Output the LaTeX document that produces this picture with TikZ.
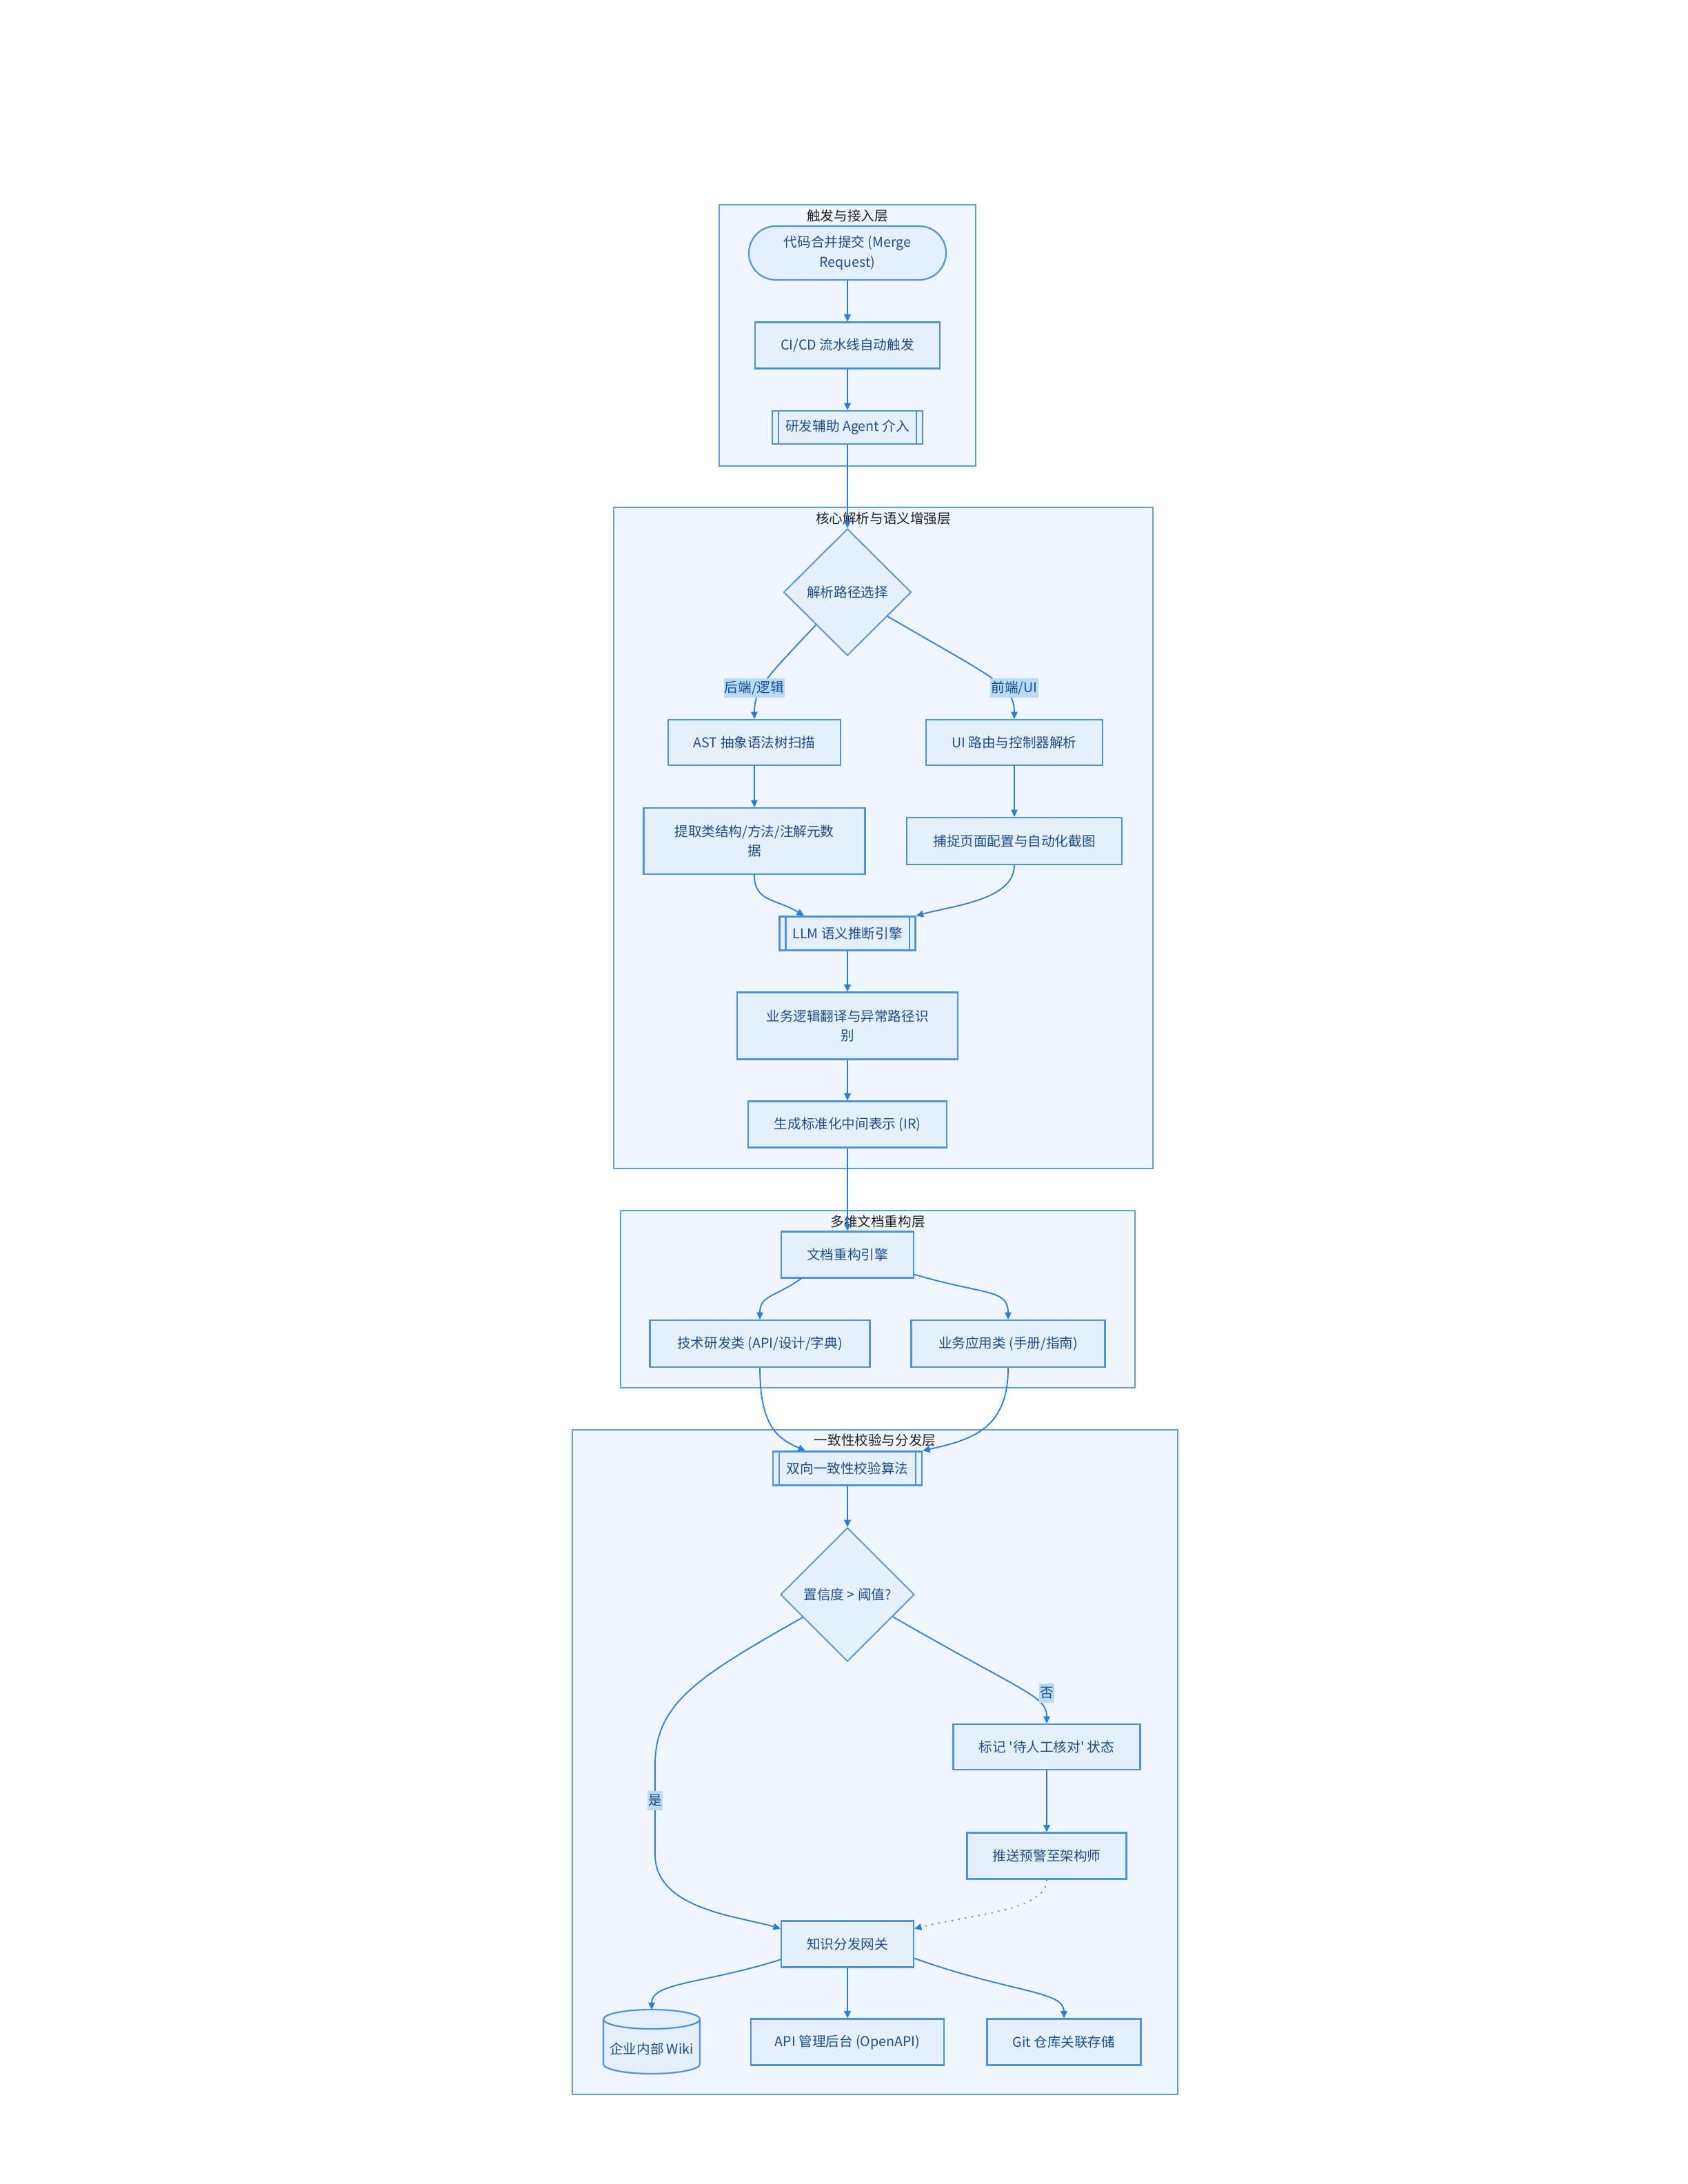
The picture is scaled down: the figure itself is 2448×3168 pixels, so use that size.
\documentclass[tikz,border=0pt]{standalone}
\usepackage{fontspec}
\newfontfamily\nfont{Noto Sans CJK SC}
\usetikzlibrary{shapes.geometric,arrows.meta}
\definecolor{layerfill}{HTML}{EFF6FE}
\definecolor{layerdraw}{HTML}{5E9DE4}
\definecolor{nodefill}{HTML}{E4F0FC}
\definecolor{nodedraw}{HTML}{4F92DF}
\definecolor{edgecol}{HTML}{2A7DE0}
\definecolor{txt}{HTML}{1E4E90}
\definecolor{lblbg}{HTML}{B8DBF9}
\definecolor{titlecol}{HTML}{222222}
\tikzset{
  layerbox/.style={draw=layerdraw, fill=layerfill, line width=0.55pt},
  ltitle/.style={font=\nfont\fontsize{4.9}{7}\selectfont, text=titlecol, inner sep=0pt},
  box/.style={draw=nodedraw, fill=nodefill, line width=0.55pt, text=txt,
    font=\nfont\fontsize{4.9}{7.1}\selectfont, align=center, inner sep=0pt},
  dia/.style={box, diamond, aspect=1, line width=0.45pt},
  sub/.style={box},
  subline/.style={draw=nodedraw, line width=0.55pt},
  edge/.style={draw=edgecol, line width=0.45pt, -{Triangle[length=2.6pt,width=2.4pt]}},
  elabel/.style={fill=lblbg, text=txt, font=\nfont\fontsize{4.9}{7}\selectfont,
    inner xsep=0.3pt, inner ysep=0.5pt, text height=4.6pt, text depth=1.2pt},
  cyltext/.style={text=txt, font=\nfont\fontsize{4.9}{7}\selectfont, inner sep=0pt},
}
\begin{document}
\begin{tikzpicture}[x=0.25pt, y=-0.25pt]
\useasboundingbox (0,0) rectangle (2448,3168);
% layers
\draw[layerbox] (1043,297) rectangle (1415,676);
\node[ltitle] (t1) at (1229,313) {触发与接入层};
\draw[layerbox] (890,736) rectangle (1672,1695);
\node[ltitle] (t2) at (1281,752) {核心解析与语义增强层};
\draw[layerbox] (900,1756) rectangle (1646,2013);
\node[ltitle] (t3) at (1273,1772) {多维文档重构层};
\draw[layerbox] (830,2074) rectangle (1708,3038);
\node[ltitle] (t4) at (1269,2089) {一致性校验与分发层};

% layer 1
\node[box, rounded corners=9.75pt, minimum width=71.5pt, minimum height=19.5pt] (mr) at (1229,367) {代码合并提交 (Merge\\Request)};
\node[box, minimum width=67pt, minimum height=16.75pt] (cicd) at (1229,501) {CI/CD 流水线自动触发};
\node[sub, minimum width=54.5pt, minimum height=12pt] (agent) at (1229,620) {研发辅助 Agent 介入};
\draw[subline] ([xshift=2.5pt]agent.north west) -- ([xshift=2.5pt]agent.south west);
\draw[subline] ([xshift=-2.5pt]agent.north east) -- ([xshift=-2.5pt]agent.south east);

% layer 2
\node[dia, minimum width=46.25pt, minimum height=46pt] (d1) at (1229,859) {解析路径选择};
\node[box, minimum width=62.5pt, minimum height=16.5pt] (ast) at (1094,1077) {AST 抽象语法树扫描};
\node[box, minimum width=64pt, minimum height=16.5pt] (ui) at (1471,1077) {UI 路由与控制器解析};
\node[box, minimum width=80.25pt, minimum height=24pt] (ext) at (1094,1220) {提取类结构/方法/注解元数\\据};
\node[box, minimum width=78pt, minimum height=17pt] (cap) at (1471,1220) {捕捉页面配置与自动化截图};
\node[sub, minimum width=49.25pt, minimum height=12.25pt] (llm) at (1229,1354) {LLM 语义推断引擎};
\draw[subline] ([xshift=2.5pt]llm.north west) -- ([xshift=2.5pt]llm.south west);
\draw[subline] ([xshift=-2.5pt]llm.north east) -- ([xshift=-2.5pt]llm.south east);
\node[box, minimum width=80pt, minimum height=24.25pt] (biz) at (1229,1488) {业务逻辑翻译与异常路径识\\别};
\node[box, minimum width=72pt, minimum height=16.75pt] (ir) at (1229,1631) {生成标准化中间表示 (IR)};

% layer 3
\node[box, minimum width=48pt, minimum height=16.75pt] (eng) at (1229,1820) {文档重构引擎};
\node[box, minimum width=79.75pt, minimum height=17pt] (tech) at (1102,1949) {技术研发类 (API/设计/字典)};
\node[box, minimum width=70.25pt, minimum height=17pt] (bizdoc) at (1462,1949) {业务应用类 (手册/指南)};

% layer 4
\node[sub, minimum width=54pt, minimum height=12.25pt] (chk) at (1229,2130) {双向一致性校验算法};
\draw[subline] ([xshift=2.5pt]chk.north west) -- ([xshift=2.5pt]chk.south west);
\draw[subline] ([xshift=-2.5pt]chk.north east) -- ([xshift=-2.5pt]chk.south east);
\node[dia, minimum width=48.5pt, minimum height=48.5pt] (d2) at (1229,2313) {置信度 > 阈值?};
\node[box, minimum width=67.75pt, minimum height=16.5pt] (mark) at (1518,2534) {标记 '待人工核对' 状态};
\node[box, minimum width=57.75pt, minimum height=16.75pt] (push) at (1518,2692) {推送预警至架构师};
\node[box, minimum width=48pt, minimum height=16.75pt] (gw) at (1229,2820) {知识分发网关};
% cylinder (database)
\node[inner sep=0pt, minimum width=35pt, minimum height=23pt] (wiki) at (945,2962) {};
\fill[nodefill] (875,2929) -- (875,2994) arc[start angle=180, end angle=0, x radius=70, y radius=14]
  -- (1015,2929) arc[start angle=0, end angle=-180, x radius=70, y radius=14] -- cycle;
\draw[draw=nodedraw, line width=0.55pt] (875,2929) -- (875,2994) arc[start angle=180, end angle=0, x radius=70, y radius=14] -- (1015,2929);
\draw[draw=nodedraw, line width=0.55pt] (945,2929) ellipse [x radius=70, y radius=14];
\node[cyltext] (wikit) at (945,2972) {企业内部 Wiki};
\node[box, minimum width=70pt, minimum height=16.75pt] (api) at (1229,2962) {API 管理后台 (OpenAPI)};
\node[box, minimum width=55.75pt, minimum height=16.75pt] (git) at (1543,2962) {Git 仓库关联存储};

% edges layer 1
\draw[edge] (mr.south) -- (cicd.north);
\draw[edge] (cicd.south) -- (agent.north);
\draw[edge] (agent.south) -- (d1.north);
% layer 2
\draw[edge] (d1.-134) .. controls +(-70,75) and +(0,-45) .. (ast.north);
\draw[edge] (d1.-31) .. controls +(150,88) and +(0,-50) .. (ui.north);
\draw[edge] (ast.south) -- (ext.north);
\draw[edge] (ui.south) -- (cap.north);
\draw[edge] (ext.south) .. controls +(0,40) and +(-40,-25) .. ([xshift=-15.75pt]llm.north);
\draw[edge] (cap.south) .. controls +(0,50) and +(55,-15) .. (llm.north east);
\draw[edge] (llm.south) -- (biz.north);
\draw[edge] (biz.south) -- (ir.north);
\draw[edge] (ir.south) -- (eng.north);
% layer 3
\draw[edge] ([xshift=-16.75pt]eng.south) .. controls +(-40,28) and +(0,-35) .. (tech.north);
\draw[edge] ([yshift=1.5pt]eng.south east) .. controls +(100,30) and +(0,-45) .. (bizdoc.north);
\draw[edge] (tech.south) .. controls +(0,88) and +(-38,-17) .. ([xshift=-15.25pt]chk.north);
\draw[edge] (bizdoc.south) .. controls +(0,90) and +(70,-16) .. (chk.north east);
% layer 4
\draw[edge] (chk.south) -- (d2.north);
\draw[edge] (d2.-26) .. controls +(190,110) and +(0,-40) .. (mark.north);
\coordinate (yA) at (950,2560);
\coordinate (yB) at (950,2690);
\draw[edge] (d2.-153) .. controls +(-150,85) and +(0,-90) .. (yA) -- (yB) .. controls +(0,80) and +(-60,-18) .. (gw.167);
\draw[edge] (mark.south) -- (push.north);
\draw[edge, dotted] (push.south) .. controls +(0,45) and +(80,-20) .. (gw.13);
\draw[edge] (gw.-167) .. controls +(-110,35) and +(0,-40) .. (wiki.north);
\draw[edge] (gw.south) -- (api.north);
\draw[edge] (gw.-12) .. controls +(140,50) and +(0,-40) .. (git.north);

% edge labels
\node[elabel] (l1) at (1094,998) {后端/逻辑};
\node[elabel] (l2) at (1471,998) {前端/UI};
\node[elabel] (l3) at (1518,2456) {否};
\node[elabel] (l4) at (950,2612) {是};
\end{tikzpicture}
\end{document}
